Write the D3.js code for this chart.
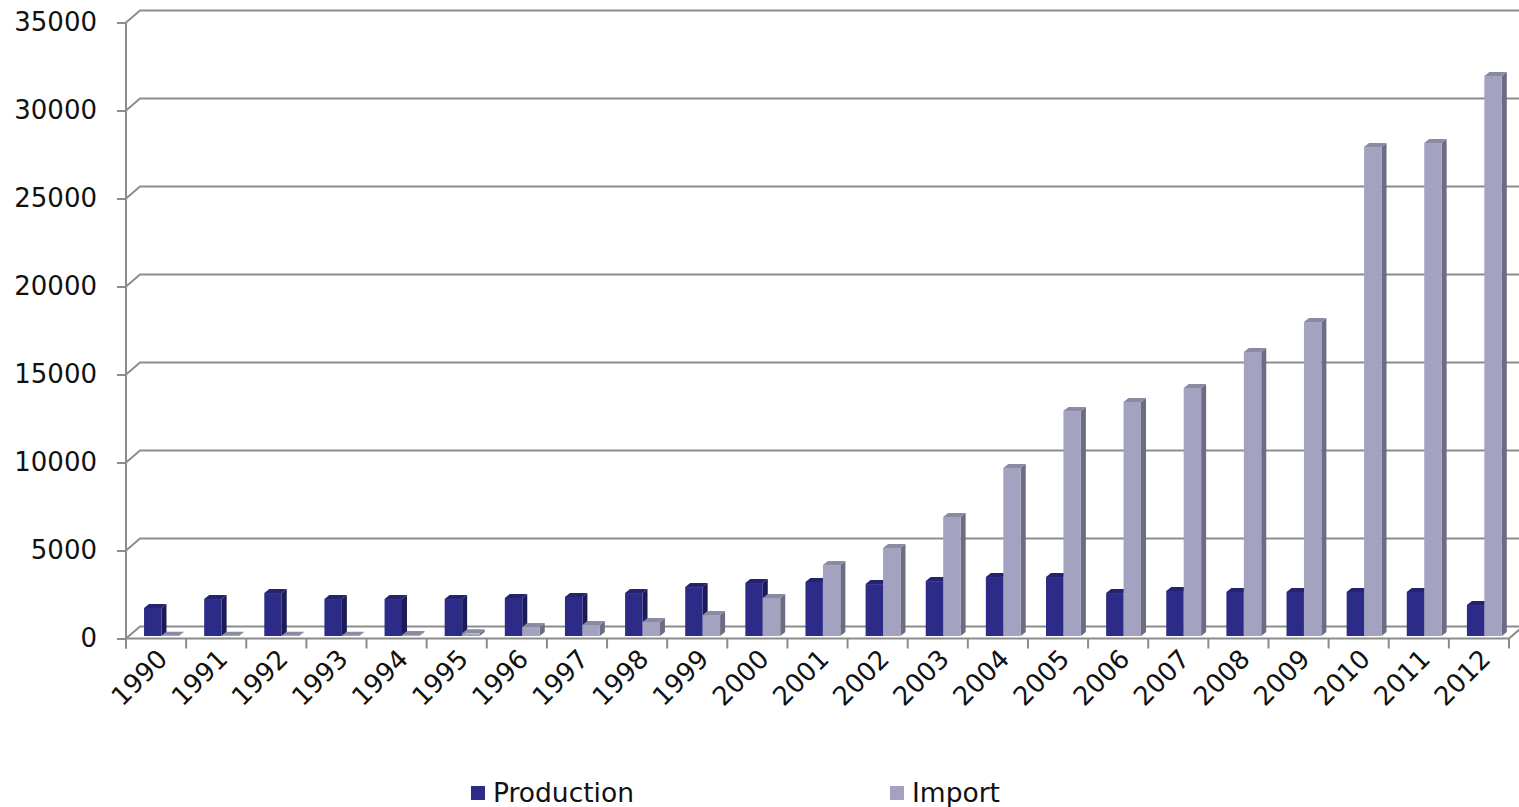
<!DOCTYPE html>
<html>
<head>
<meta charset="utf-8">
<script src="https://cdn.jsdelivr.net/npm/d3@7"></script>
<style>
  html, body { margin: 0; padding: 0; background: #fff; }
  svg { display: block; }
  text { font-family: "DejaVu Sans", Verdana, sans-serif; fill: #111; }
</style>
</head>
<body>
<svg id="chart" width="1519" height="807"></svg>
<script>
// Annual volumes, 1990–2012
const years = ["1990","1991","1992","1993","1994","1995","1996","1997","1998","1999","2000",
               "2001","2002","2003","2004","2005","2006","2007","2008","2009","2010","2011","2012"];
const production = [1590, 2100, 2440, 2100, 2100, 2100, 2160, 2220, 2440, 2780, 3010,
                    3070, 2950, 3120, 3350, 3350, 2440, 2560, 2500, 2500, 2500, 2500, 1760];
const imports = [10, 10, 10, 10, 50, 150, 510, 625, 800, 1190, 2160,
                 4030, 5000, 6760, 9550, 12780, 13300, 14090, 16140, 17840, 27780, 28010, 31820];
const yTicks = [0, 5000, 10000, 15000, 20000, 25000, 30000, 35000];
const seriesNames = ["Production", "Import"];

const W = 1519, H = 807;
const svg = d3.select("#chart");

// 3-D geometry: wall depth offset and bar depth offset
const wall = { dx: 14, dy: -12 };
const bar = { dx: 5, dy: -4 };
const gridColor = "#8c8c8c";

const x = d3.scaleBand().domain(years).range([126, 1509]).padding(0);
const yFront = d3.scaleLinear().domain([0, 35000]).range([638.5, 22.5]);
const yBar = d3.scaleLinear().domain([0, 35000]).range([636, 20]);
const bw = x.bandwidth();

const palette = {
  Production: { front: "#2C2C88", side: "#1B1B58", top: "#23236E" },
  Import:     { front: "#A3A3C1", side: "#6C6C82", top: "#8A8AA3" }
};

// Back wall gridlines with their diagonal joins to the front axis
const grid = svg.append("g").attr("fill", "none").attr("stroke", gridColor).attr("stroke-width", 2);
grid.selectAll("path.grid").data(yTicks).join("path")
  .attr("class", "grid")
  .attr("d", t => {
    const y0 = yFront(t);
    return `M${x.range()[0]},${y0} L${x.range()[0] + wall.dx},${y0 + wall.dy} L${W + 10},${y0 + wall.dy}`;
  });

// Floor: front edge and right corner
const x0 = x.range()[0], x1 = x.range()[1], yZero = yFront(0);
grid.append("path").attr("d", `M${x0},${yZero} L${x1},${yZero} L${x1 + wall.dx},${yZero + wall.dy}`);

// Category boundary ticks under the floor
grid.selectAll("line.ctick").data(d3.range(years.length + 1)).join("line")
  .attr("class", "ctick")
  .attr("x1", i => x0 + i * bw).attr("x2", i => x0 + i * bw)
  .attr("y1", yZero).attr("y2", yZero + 10);

// Value axis
const yAxis = d3.axisLeft(yFront).tickValues(yTicks).tickSize(9).tickSizeOuter(0).tickPadding(20)
  .tickFormat(d3.format("d"));
const gy = svg.append("g").attr("transform", `translate(${x0},0)`).call(yAxis);
gy.select(".domain").remove();
gy.selectAll(".tick line").attr("stroke", gridColor).attr("stroke-width", 2);
gy.selectAll(".tick text").attr("font-size", 26).attr("fill", "#111")
  .attr("font-family", "'DejaVu Sans', Verdana, sans-serif");
svg.append("line").attr("x1", x0).attr("x2", x0)
  .attr("y1", yFront(35000)).attr("y2", yZero + 10)
  .attr("stroke", gridColor).attr("stroke-width", 2);

// Category axis labels
const xAxis = d3.axisBottom(x).tickSize(0).tickSizeOuter(0);
const gx = svg.append("g").attr("transform", `translate(0,${yZero})`).call(xAxis);
gx.select(".domain").remove();
gx.selectAll(".tick text")
  .attr("font-size", 26).attr("fill", "#111")
  .attr("font-family", "'DejaVu Sans', Verdana, sans-serif")
  .attr("x", 0).attr("y", 0).attr("dy", 0)
  .attr("text-anchor", "end")
  .attr("transform", "translate(13,22) rotate(-45)");

// Bars
const rows = [];
years.forEach((yr, i) => {
  rows.push({ year: yr, series: "Production", value: production[i], slot: 0 });
  rows.push({ year: yr, series: "Import", value: imports[i], slot: 1 });
});
const barW = bw * 0.29;
const gBars = svg.append("g");
const bars = gBars.selectAll("g.bar").data(rows).join("g").attr("class", "bar");

function geom(d) {
  const left = x(d.year) + bw * 0.3 + d.slot * barW;
  const right = left + barW;
  const top = yBar(d.value);
  const base = yBar(0);
  return { left, right, top, base };
}

bars.append("path") // side face
  .attr("fill", d => palette[d.series].side)
  .attr("d", d => {
    const g = geom(d);
    return `M${g.right},${g.top} L${g.right + bar.dx},${g.top + bar.dy} L${g.right + bar.dx},${g.base + bar.dy} L${g.right},${g.base} Z`;
  });
bars.append("path") // top face
  .attr("fill", d => palette[d.series].top)
  .attr("d", d => {
    const g = geom(d);
    return `M${g.left},${g.top} L${g.left + bar.dx},${g.top + bar.dy} L${g.right + bar.dx},${g.top + bar.dy} L${g.right},${g.top} Z`;
  });
bars.append("rect") // front face
  .attr("fill", d => palette[d.series].front)
  .attr("x", d => geom(d).left)
  .attr("y", d => geom(d).top)
  .attr("width", barW)
  .attr("height", d => Math.max(0, geom(d).base - geom(d).top));

// Legend
const legend = svg.append("g");
const legendX = [471, 890];
seriesNames.forEach((name, i) => {
  const g = legend.append("g").attr("transform", `translate(${legendX[i]},786)`);
  g.append("rect").attr("width", 14).attr("height", 14).attr("fill", palette[name].front);
  g.append("text").attr("x", 22).attr("y", 15.5).attr("font-size", 26.5).text(name);
});
</script>
</body>
</html>
